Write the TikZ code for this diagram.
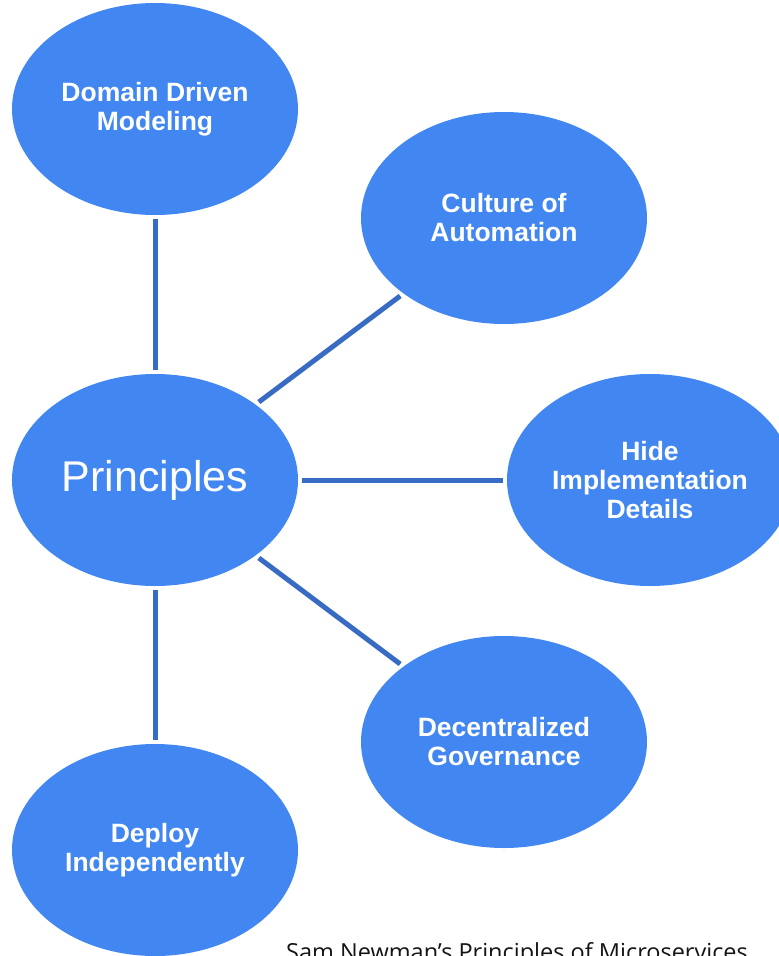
\documentclass[tikz,border=0pt]{standalone}
\usepackage{fontspec}
\setmainfont{Liberation Sans}
\newfontfamily\notefont{Open Sans}
\usetikzlibrary{shapes.geometric}
\definecolor{bubbleBlue}{RGB}{66, 135, 241}
\definecolor{linkBlue}{RGB}{56, 108, 196}
\definecolor{noteBlack}{RGB}{20, 20, 20}
\tikzset{
    bubble/.style={ellipse, fill=bubbleBlue, draw=none, minimum width=286pt, minimum height=212pt, inner sep=0pt, align=center, text=white, font=\fontsize{26.5pt}{29pt}\selectfont\bfseries},
    link/.style={draw=linkBlue, line width=5pt, shorten <=4pt, shorten >=4pt}
}
\begin{document}
\begin{tikzpicture}[x=1pt, y=-1pt]
                \useasboundingbox (0,0) rectangle (779,956);
                % bubbles
                \node[bubble] (domain) at (155,109) {Domain Driven\\Modeling};
                \node[bubble] (culture) at (504,218) {Culture of\\Automation};
                \node[bubble, font=\fontsize{43pt}{50pt}\selectfont] (principles) at (155,480) {Principles};
                \node[bubble] (hide) at (650,480) {Hide\\Implementation\\Details};
                \node[bubble] (governance) at (504,742) {Decentralized\\Governance};
                \node[bubble] (deploy) at (155,850) {Deploy\\Independently};
                % links
                \draw[link] (principles) -- (domain);
                \draw[link] (principles) -- (culture);
                \draw[link] (principles) -- (hide);
                \draw[link] (principles) -- (governance);
                \draw[link] (principles) -- (deploy);
                % source note
                \node[anchor=base west, inner sep=0pt, text=noteBlack, font=\notefont\fontsize{23.5pt}{28pt}\selectfont] (note) at (286,960) {Sam Newman’s Principles of Microservices};
            \end{tikzpicture}
\end{document}
